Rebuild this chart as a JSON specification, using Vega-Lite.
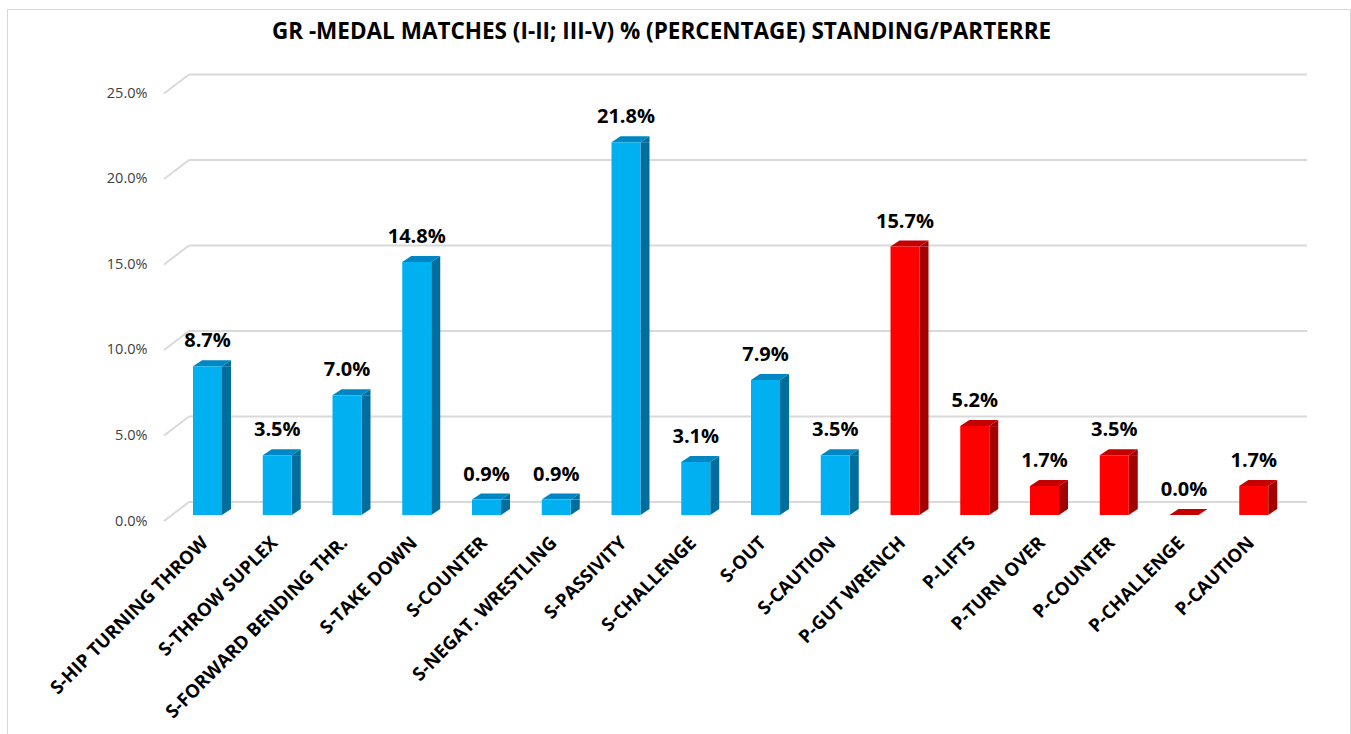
{
  "$schema": "https://vega.github.io/schema/vega-lite/v6.json",
  "autosize": "none",
  "width": 1343,
  "height": 725,
  "padding": {"left": 7, "top": 9, "right": 1, "bottom": 0},
  "background": "white",
  "config": {
    "view": {"stroke": "#D9D9D9", "strokeWidth": 1},
    "font": "Open Sans",
    "axis": {"grid": false, "ticks": false, "domain": false, "labelFont": "Open Sans"}
  },
  "title": {"text": "GR -MEDAL MATCHES (I-II; III-V) % (PERCENTAGE) STANDING/PARTERRE", "font": "Open Sans", "fontSize": 22.5, "fontWeight": "bold", "color": "#000000", "anchor": "middle", "offset": -34, "dx": -17},
  "datasets": {
    "medal": [
      {"technique": "S-HIP TURNING THROW", "type": "Standing", "v": 0.087},
      {"technique": "S-THROW  SUPLEX", "type": "Standing", "v": 0.035},
      {"technique": "S-FORWARD BENDING THR.", "type": "Standing", "v": 0.070},
      {"technique": "S-TAKE DOWN", "type": "Standing", "v": 0.148},
      {"technique": "S-COUNTER", "type": "Standing", "v": 0.009},
      {"technique": "S-NEGAT. WRESTLING", "type": "Standing", "v": 0.009},
      {"technique": "S-PASSIVITY", "type": "Standing", "v": 0.218},
      {"technique": "S-CHALLENGE", "type": "Standing", "v": 0.031},
      {"technique": "S-OUT", "type": "Standing", "v": 0.079},
      {"technique": "S-CAUTION", "type": "Standing", "v": 0.035},
      {"technique": "P-GUT WRENCH", "type": "Parterre", "v": 0.157},
      {"technique": "P-LIFTS", "type": "Parterre", "v": 0.052},
      {"technique": "P-TURN OVER", "type": "Parterre", "v": 0.017},
      {"technique": "P-COUNTER", "type": "Parterre", "v": 0.035},
      {"technique": "P-CHALLENGE", "type": "Parterre", "v": 0.0},
      {"technique": "P-CAUTION", "type": "Parterre", "v": 0.017}
    ],
    "grid": [{"v": 0}, {"v": 0.05}, {"v": 0.1}, {"v": 0.15}, {"v": 0.2}, {"v": 0.25}]
  },
  "layer": [
    {
      "data": {"name": "grid"},
      "mark": {"type": "rule", "color": "#D9D9D9", "strokeWidth": 2, "xOffset": -18.5, "x2Offset": 53.25, "yOffset": -13},
      "encoding": {
        "x": {"datum": "S-HIP TURNING THROW", "type": "nominal",
          "scale": {"domain": ["S-HIP TURNING THROW", "S-THROW  SUPLEX", "S-FORWARD BENDING THR.", "S-TAKE DOWN", "S-COUNTER", "S-NEGAT. WRESTLING", "S-PASSIVITY", "S-CHALLENGE", "S-OUT", "S-CAUTION", "P-GUT WRENCH", "P-LIFTS", "P-TURN OVER", "P-COUNTER", "P-CHALLENGE", "P-CAUTION"], "range": [165.625, 1281.625], "paddingInner": 0, "paddingOuter": 0},
          "axis": {"orient": "bottom", "offset": -219, "labelAngle": -45, "labelPadding": 18, "labelOffset": -9, "title": null, "labelFontSize": 18.5, "labelFontWeight": "bold", "labelColor": "#000000", "labelLimit": 400}},
        "x2": {"datum": "P-CAUTION"},
        "y": {"field": "v", "type": "quantitative", "scale": {"domain": [-0.12807, 0.295906], "nice": false, "zero": false},
          "axis": {"values": [0, 0.05, 0.1, 0.15, 0.2, 0.25], "format": ".1%", "orient": "left", "offset": -157, "labelPadding": 17, "labelOffset": 6, "title": null, "labelFontSize": 14.5, "labelColor": "#404040"}}
      }
    },
    {
      "data": {"name": "grid"},
      "mark": {"type": "rule", "color": "#D9D9D9", "strokeWidth": 2, "xOffset": -43.5, "x2Offset": -18.5, "yOffset": 6, "y2Offset": -13},
      "encoding": {
        "x": {"datum": "S-HIP TURNING THROW", "type": "nominal", "title": null},
        "x2": {"datum": "S-HIP TURNING THROW"},
        "y": {"field": "v", "type": "quantitative", "title": null},
        "y2": {"field": "v"}
      }
    },
    {
      "data": {"name": "medal"},
      "transform": [{"filter": "datum.v > 0"}],
      "mark": {"type": "bar", "width": 9, "xOffset": 19, "y2Offset": -6},
      "encoding": {
        "x": {"field": "technique", "type": "nominal", "title": null},
        "y": {"field": "v", "type": "quantitative", "title": null},
        "y2": {"datum": 0},
        "color": {"condition": {"test": "datum.type === 'Standing'", "value": "#006E9C"}, "value": "#A30000"}
      }
    },
    {
      "data": {"name": "medal"},
      "transform": [{"filter": "datum.v > 0"}],
      "mark": {"type": "point", "shape": "M 14.5 0 L 23.5 -6 L 23.5 0 Z", "size": 4, "filled": true, "opacity": 1, "strokeWidth": 0},
      "encoding": {
        "x": {"field": "technique", "type": "nominal", "title": null},
        "y": {"field": "v", "type": "quantitative", "title": null},
        "color": {"condition": {"test": "datum.type === 'Standing'", "value": "#006E9C"}, "value": "#A30000"}
      }
    },
    {
      "data": {"name": "medal"},
      "transform": [{"filter": "datum.v > 0"}],
      "mark": {"type": "point", "shape": "M 14.5 0 L 14.5 -6 L 23.5 -6 Z", "size": 4, "filled": true, "opacity": 1, "strokeWidth": 0},
      "encoding": {
        "x": {"field": "technique", "type": "nominal", "title": null},
        "y": {"datum": 0, "type": "quantitative", "title": null},
        "color": {"condition": {"test": "datum.type === 'Standing'", "value": "#006E9C"}, "value": "#A30000"}
      }
    },
    {
      "data": {"name": "medal"},
      "mark": {"type": "point", "shape": "M -14.5 0 L 14.5 0 L 23.5 -6 L -5.5 -6 Z", "size": 4, "filled": true, "opacity": 1, "strokeWidth": 0},
      "encoding": {
        "x": {"field": "technique", "type": "nominal", "title": null},
        "y": {"field": "v", "type": "quantitative", "title": null},
        "color": {"condition": {"test": "datum.type === 'Standing'", "value": "#0086C2"}, "value": "#C40000"}
      }
    },
    {
      "data": {"name": "medal"},
      "mark": {"type": "bar", "width": 29},
      "encoding": {
        "x": {"field": "technique", "type": "nominal", "title": null},
        "y": {"field": "v", "type": "quantitative", "title": null},
        "y2": {"datum": 0},
        "color": {"condition": {"test": "datum.type === 'Standing'", "value": "#00B0F0"}, "value": "#FF0000"}
      }
    },
    {
      "data": {"name": "medal"},
      "mark": {"type": "text", "dy": -19, "baseline": "alphabetic", "font": "Open Sans", "fontSize": 20, "fontWeight": "bold", "color": "#000000"},
      "encoding": {
        "x": {"field": "technique", "type": "nominal", "title": null},
        "y": {"field": "v", "type": "quantitative", "title": null},
        "text": {"field": "v", "type": "quantitative", "format": ".1%"}
      }
    }
  ]
}
